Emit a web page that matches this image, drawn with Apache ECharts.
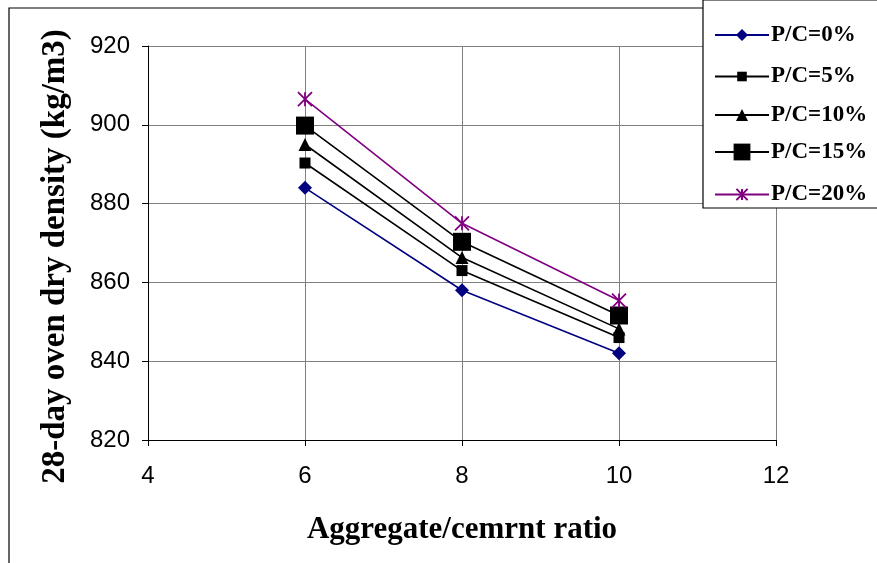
<!DOCTYPE html>
<html>
<head>
<meta charset="utf-8">
<script src="https://cdn.jsdelivr.net/npm/echarts@6/dist/echarts.min.js"></script>
<style>
  html, body { margin: 0; padding: 0; background: #fff; }
  #chart { width: 877px; height: 563px; }
</style>
</head>
<body>
<div id="chart"></div>
<script>
// aggregate/cement ratio (x)
var ratios = [6, 8, 10];
var seriesNames = ['P/C=0%', 'P/C=5%', 'P/C=10%', 'P/C=15%', 'P/C=20%'];
// 28-day oven dry density, kg/m3
var pc0 = [884, 858, 842];
var pc5 = [890.3, 863, 846];
var pc10 = [895, 866.3, 848.2];
var pc15 = [899.8, 870.3, 851.6];
var pc20 = [906.5, 875, 855.4];
var yTicks = [820, 840, 860, 880, 900, 920];
var xTicks = [4, 6, 8, 10, 12];

var crossPath = 'path://M0,0L10,10M10,0L0,10M5,0L5,10';

var styles = [
  { color: '#000080', symbol: 'diamond', size: 14, legendH: 15 },
  { color: '#000000', symbol: 'rect', size: 11, legendH: 12 },
  { color: '#000000', symbol: 'triangle', size: 13, legendH: 15 },
  { color: '#000000', symbol: 'rect', size: 18, legendH: 21 },
  { color: '#800080', symbol: crossPath, size: 14, legendH: 14 }
];
var values = [pc0, pc5, pc10, pc15, pc20];

function pairs(arr) {
  return ratios.map(function (x, i) { return [x, arr[i]]; });
}

var series = values.map(function (v, i) {
  var s = styles[i];
  var isCross = i === 4;
  return {
    name: seriesNames[i],
    type: 'line',
    data: pairs(v),
    symbol: s.symbol,
    symbolSize: s.size,
    showAllSymbol: true,
    lineStyle: { color: s.color, width: 1.6 },
    itemStyle: isCross
      ? { color: s.color, borderColor: s.color, borderWidth: 1.8 }
      : { color: s.color, borderWidth: 0 },
    emphasis: { disabled: true },
    animation: false,
    z: 3 + i
  };
});

var rowY = [31, 71, 111, 151, 190];
var legends = seriesNames.map(function (n, i) {
  var h = styles[i].legendH;
  return {
    data: [n],
    left: 714,
    top: rowY[i] - h / 2,
    orient: 'vertical',
    itemWidth: 54,
    itemHeight: h,
    itemGap: 0,
    padding: 0,
    selectedMode: false,
    z: 11,
    textStyle: {
      fontFamily: 'Liberation Serif',
      fontWeight: 'bold',
      fontSize: 23,
      color: '#000',
      padding: [0, 0, 0, -3]
    }
  };
});

var axisFont = { fontFamily: 'Liberation Sans', fontSize: 24, color: '#000' };

var chart = echarts.init(document.getElementById('chart'), null, { renderer: 'canvas' });
chart.setOption({
  backgroundColor: '#fff',
  animation: false,
  grid: { left: 148, right: 101, top: 46, bottom: 123 },
  graphic: [
    {
      type: 'rect',
      shape: { x: 9, y: 8, width: 900, height: 600 },
      style: { fill: 'none', stroke: '#000', lineWidth: 1.2 },
      silent: true,
      z: 0
    },
    {
      type: 'rect',
      shape: { x: 703, y: 0, width: 200, height: 208 },
      style: { fill: '#fff', stroke: '#000', lineWidth: 1.2 },
      silent: true,
      z: 10
    }
  ],
  legend: legends,
  xAxis: {
    type: 'value',
    min: xTicks[0],
    max: xTicks[xTicks.length - 1],
    interval: 2,
    name: 'Aggregate/cemrnt ratio',
    nameLocation: 'middle',
    nameGap: 74,
    nameTextStyle: {
      fontFamily: 'Liberation Serif',
      fontWeight: 'bold',
      fontSize: 31,
      color: '#000'
    },
    axisLine: { show: true, lineStyle: { color: '#000', width: 1 } },
    axisTick: { show: true, length: 6, lineStyle: { color: '#000' } },
    axisLabel: Object.assign({ margin: 24 }, axisFont),
    splitLine: { show: true, lineStyle: { color: '#808080', width: 1 } }
  },
  yAxis: {
    type: 'value',
    min: yTicks[0],
    max: yTicks[yTicks.length - 1],
    interval: 20,
    name: '28-day oven dry density (kg/m3)',
    nameLocation: 'middle',
    nameGap: 76,
    nameTextStyle: {
      fontFamily: 'Liberation Serif',
      fontWeight: 'bold',
      fontSize: 33,
      color: '#000',
      padding: [0, 27, 0, 0]
    },
    axisLine: { show: true, lineStyle: { color: '#000', width: 1 } },
    axisTick: { show: true, length: 6, lineStyle: { color: '#000' } },
    axisLabel: Object.assign({ margin: 18 }, axisFont),
    splitLine: { show: true, lineStyle: { color: '#808080', width: 1 } }
  },
  series: series
});
</script>
</body>
</html>
